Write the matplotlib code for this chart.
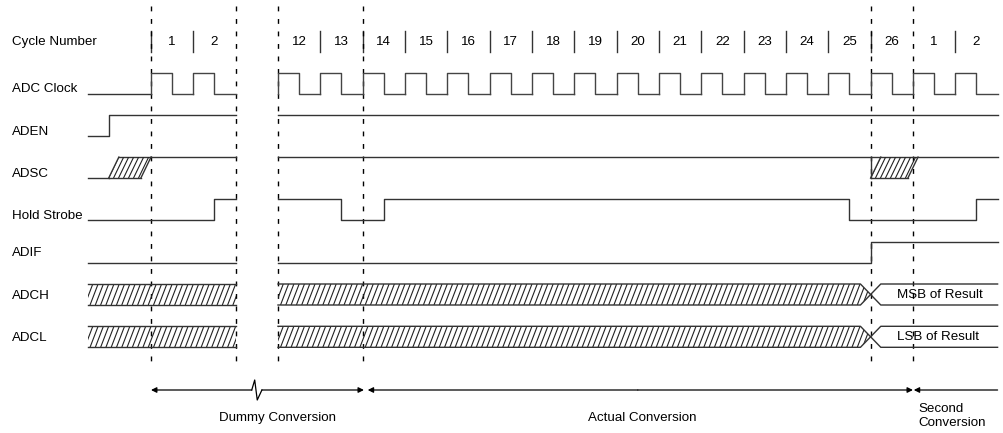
import numpy as np
import matplotlib
matplotlib.use("Agg")
import matplotlib.pyplot as plt
from matplotlib.patches import Polygon
from matplotlib.collections import LineCollection

plt.rcParams['font.family'] = ['Liberation Sans', 'DejaVu Sans']

# ---- data (time in ADC clock periods, 0 = start of cycle 1) ----
cycle_numbers = [1, 2, 12, 13, 14, 15, 16, 17, 18, 19, 20, 21, 22, 23, 24, 25, 26, 1, 2]
cycle_slots = [0, 1, 3, 4, 5, 6, 7, 8, 9, 10, 11, 12, 13, 14, 15, 16, 17, 18, 19]
segments = [(-1.5, 2.0), (3.0, 20.0)]          # drawn spans, the gap is the time break
signal_names = ['ADC Clock', 'ADEN', 'ADSC', 'Hold Strobe', 'ADIF', 'ADCH', 'ADCL']

aden_steps = [(-1.5, 0), (-1.0, 1)]             # (time, level) held until next change
hold_steps = [(-1.5, 0), (1.5, 1), (4.5, 0), (5.5, 1), (16.5, 0), (19.5, 1)]
adif_steps = [(-1.5, 0), (17.0, 1)]
adsc_windows = [(-1.0, 0.0), (17.0, 18.12)]      # start-conversion "don't care" windows
result_valid_at = 17.0
bus_labels = ['MSB of Result', 'LSB of Result']
marker_times = [0, 2, 3, 5, 17, 18]              # dashed reference lines
phase_names = ['Dummy Conversion', 'Actual Conversion', 'Second\nConversion']

# ---- layout ----
W, H = 1004, 433
PX = 42.33           # pixels per clock period
X0 = 151             # pixel of time 0
ROW0, ROWSTEP, AMP = 72.5, 42.3, 21.0
LC = '#333333'
FS = 9.6


def row_levels(i):
    top = ROW0 + ROWSTEP * i
    return top, top + AMP


def step_xy(steps, t0, t1):
    xs, ys = [], []
    lvl = steps[0][1]
    for t, v in steps:
        if t <= t0:
            lvl = v
    xs.append(t0); ys.append(lvl)
    for t, v in steps:
        if t0 < t < t1 and v != lvl:
            xs += [t, t]; ys += [lvl, v]
            lvl = v
    xs.append(t1); ys.append(lvl)
    return np.array(xs), np.array(ys)


def hatch(ax, verts, ybot, ytop, slant=0.19, gap=0.125):
    poly = Polygon(verts, closed=True, facecolor='none', edgecolor='none')
    ax.add_patch(poly)
    xmin = min(v[0] for v in verts) - slant
    xmax = max(v[0] for v in verts)
    segs = [[(x, ybot), (x + slant, ytop)] for x in np.arange(xmin, xmax, gap)]
    lc = LineCollection(segs, colors='#222222', linewidths=0.8)
    ax.add_collection(lc)
    lc.set_clip_path(poly)


fig = plt.figure(figsize=(W / 100, H / 100), dpi=100)
ax = fig.add_axes([0, 0, 1, 1])
ax.set_xlim(-X0 / PX, (W - X0) / PX)
ax.set_ylim(H, 0)
ax.axis('off')

label_x = (12 - X0) / PX
label_y = [89, 132, 174, 216, 253, 296, 338]

# cycle number row
ax.text(label_x, 42, 'Cycle Number', fontsize=FS, va='center', ha='left')
for n, s in zip(cycle_numbers, cycle_slots):
    ax.text(s + 0.5, 42, str(n), fontsize=FS, va='center', ha='center')
for s in cycle_slots:
    if s not in (3, 18):
        ax.plot([s, s], [31, 52], color=LC, lw=1.0)

# dashed markers
for t in marker_times:
    ax.plot([t, t], [6, 368], color='black', lw=1.0, dashes=(3.5, 5.5))

for i, name in enumerate(signal_names):
    ax.text(label_x, label_y[i], name, fontsize=FS, va='center', ha='left')

# ADC clock
hi, lo = row_levels(0)
ax.plot([-1.5, 0], [lo, lo], color=LC, lw=1.0)
for s in cycle_slots:
    ax.plot([s, s, s + 0.5, s + 0.5, s + 1], [lo, hi, hi, lo, lo], color='#444444', lw=1.0)

# simple level signals
for row, steps in [(1, aden_steps), (3, hold_steps), (4, adif_steps)]:
    hi, lo = row_levels(row)
    for t0, t1 in segments:
        x, lv = step_xy(steps, t0, t1)
        ax.plot(x, np.where(lv == 1, hi, lo), color=LC, lw=1.0)

# ADSC
hi, lo = row_levels(2)
sl = 0.24
w0, w1 = adsc_windows[0]
ax.plot([segments[0][0], w0], [lo, lo], color=LC, lw=1.0)
ax.plot([w0 + sl, segments[0][1]], [hi, hi], color=LC, lw=1.0)
ax.plot([segments[1][0], segments[1][1]], [hi, hi], color=LC, lw=1.0)
for k, (a, b) in enumerate(adsc_windows):
    verts = [(a, lo), (b - sl, lo), (b, hi), (a + sl, hi)]
    hatch(ax, verts, lo, hi, slant=sl, gap=0.118)
    ax.plot([a, b - sl], [lo, lo], color=LC, lw=1.0)
    ax.plot([a, a + sl], [lo, hi], color=LC, lw=1.0)
    ax.plot([b - sl, b], [lo, hi], color=LC, lw=1.0)
    if k == 1:
        ax.plot([a, a], [lo, hi], color=LC, lw=1.0)

# data buses
c = 0.24
for k, row in enumerate([5, 6]):
    top, bot = row_levels(row)
    mid = (top + bot) / 2
    a, b = segments[0]
    hatch(ax, [(a, bot), (b, bot), (b, top), (a, top)], bot, top)
    ax.plot([a, b], [top, top], color=LC, lw=1.0)
    ax.plot([a, b], [bot, bot], color=LC, lw=1.0)
    a, b = segments[1]
    v = result_valid_at
    hatch(ax, [(a, top), (v - c, top), (v, mid), (v - c, bot), (a, bot)], bot, top)
    ax.plot([a, v - c, v + c, b], [top, top, bot, bot], color=LC, lw=1.0)
    ax.plot([a, v - c, v + c, b], [bot, bot, top, top], color=LC, lw=1.0)
    ax.text(v + 0.62, mid, bus_labels[k], fontsize=FS, va='center', ha='left')

# phase arrows
ya = 390
arr = dict(arrowstyle='-|>', color='black', lw=0.9, mutation_scale=8,
           shrinkA=0, shrinkB=0)
ax.annotate('', xy=(0, ya), xytext=(2.38, ya), arrowprops=arr)
ax.plot([2.38, 2.45, 2.51, 2.62], [ya, 380, 400, ya], color='black', lw=0.9)
ax.annotate('', xy=(5.03, ya), xytext=(2.62, ya), arrowprops=arr)
ax.annotate('', xy=(5.12, ya), xytext=(11.5, ya), arrowprops=arr)
ax.annotate('', xy=(18.0, ya), xytext=(11.5, ya), arrowprops=arr)
ax.annotate('', xy=(18.02, ya), xytext=(20.0, ya), arrowprops=arr)

ax.text(3.0, 418, phase_names[0], fontsize=FS, va='center', ha='center')
ax.text(11.6, 418, phase_names[1], fontsize=FS, va='center', ha='center')
ax.text(18.13, 416, phase_names[2], fontsize=FS, va='center', ha='left',
        linespacing=1.15)

fig.savefig('out.png', dpi=100)
